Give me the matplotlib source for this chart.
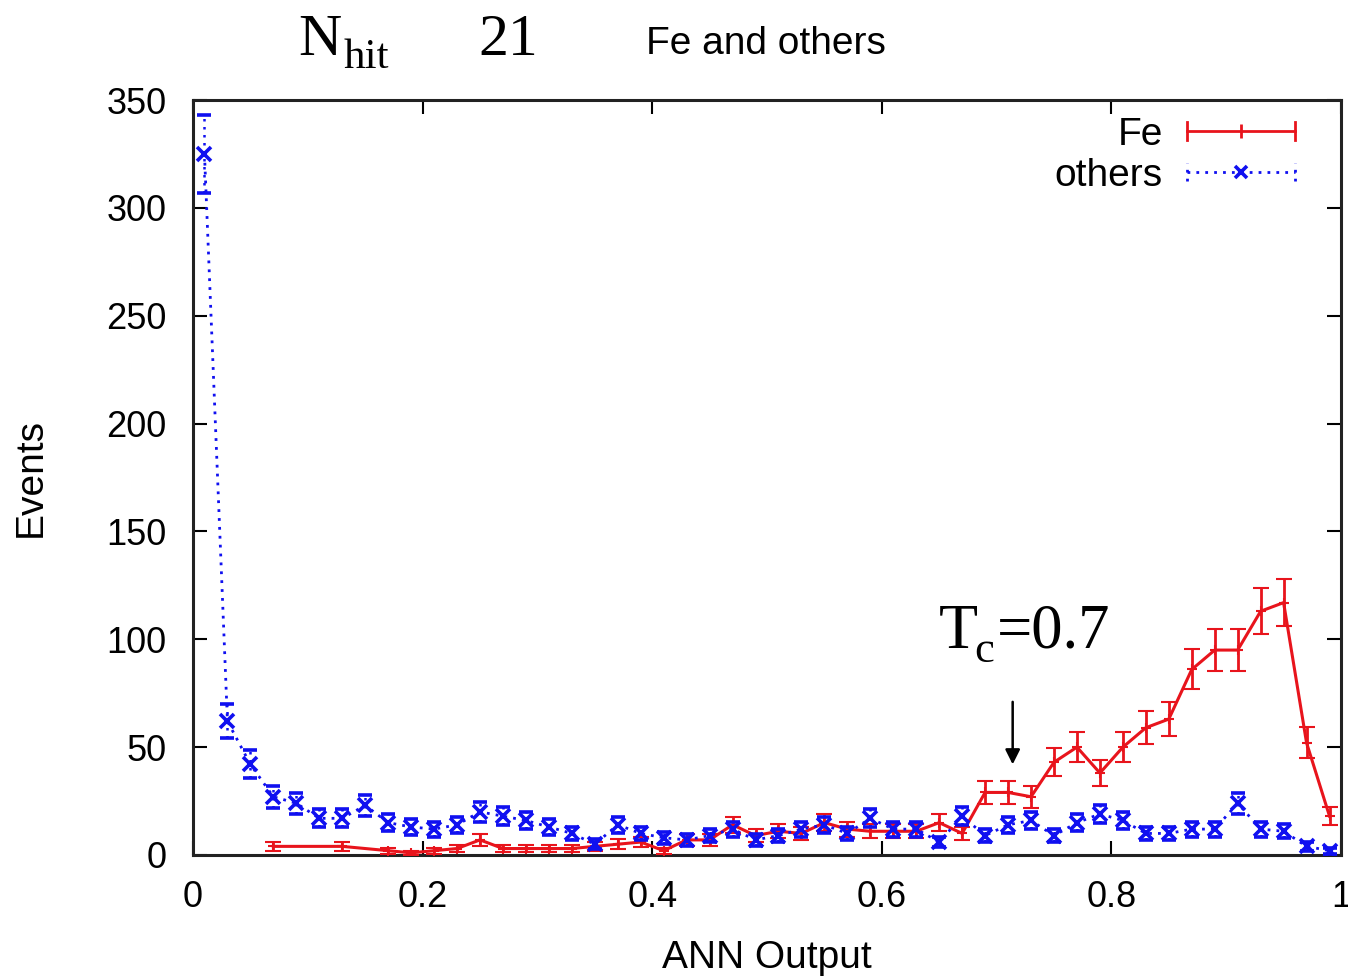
import numpy as np
import matplotlib
matplotlib.use("Agg")
import matplotlib.pyplot as plt
from matplotlib.legend_handler import HandlerBase
from matplotlib.lines import Line2D

# ANN output bin centres (bin width 0.02)
others_x = [0.01, 0.03, 0.05, 0.07, 0.09, 0.11, 0.13, 0.15, 0.17, 0.19,
            0.21, 0.23, 0.25, 0.27, 0.29, 0.31, 0.33, 0.35, 0.37, 0.39,
            0.41, 0.43, 0.45, 0.47, 0.49, 0.51, 0.53, 0.55, 0.57, 0.59,
            0.61, 0.63, 0.65, 0.67, 0.69, 0.71, 0.73, 0.75, 0.77, 0.79,
            0.81, 0.83, 0.85, 0.87, 0.89, 0.91, 0.93, 0.95, 0.97, 0.99]
others_counts = [325, 62, 42, 27, 24, 17, 17, 23, 15, 13,
                 12, 14, 20, 18, 16, 13, 10, 5, 14, 10,
                 8, 7, 9, 12, 7, 9, 12, 14, 10, 17,
                 12, 12, 6, 18, 9, 14, 16, 9, 15, 19,
                 16, 10, 10, 12, 12, 24, 12, 11, 4, 2]

fe_x = [0.07, 0.13, 0.17, 0.19, 0.21, 0.23, 0.25, 0.27, 0.29, 0.31,
        0.33, 0.35, 0.37, 0.39, 0.41, 0.43, 0.45, 0.47, 0.49, 0.51,
        0.53, 0.55, 0.57, 0.59, 0.61, 0.63, 0.65, 0.67, 0.69, 0.71,
        0.73, 0.75, 0.77, 0.79, 0.81, 0.83, 0.85, 0.87, 0.89, 0.91,
        0.93, 0.95, 0.97, 0.99]
fe_counts = [4, 4, 2, 1, 2, 3, 7, 3, 3, 3,
             3, 4, 5, 6, 2, 7, 7, 14, 9, 11,
             10, 15, 12, 11, 11, 11, 15, 10, 29, 29,
             27, 43, 50, 38, 50, 59, 63, 86, 95, 95,
             113, 117, 52, 18]

x_ticks = [0, 0.2, 0.4, 0.6, 0.8, 1]
x_tick_labels = ["0", "0.2", "0.4", "0.6", "0.8", "1"]
y_ticks = [0, 50, 100, 150, 200, 250, 300, 350]
cut_value = 0.7

SANS = ["Liberation Sans", "DejaVu Sans"]
SERIF = ["Liberation Serif", "DejaVu Serif"]
plt.rcParams["font.family"] = SANS

W, H = 1348, 977
fig = plt.figure(figsize=(W / 100, H / 100), dpi=100)
ax = fig.add_axes([193 / W, 1 - 855 / H, (1341 - 193) / W, (855 - 100) / H])

RED = "#e8141c"
BLUE = "#1010f0"
DOTS = (0, (1, 2.2))

fe_err = np.sqrt(np.array(fe_counts, dtype=float))
ot_err = np.sqrt(np.array(others_counts, dtype=float))

fe = ax.errorbar(fe_x, fe_counts, yerr=fe_err, color=RED, lw=2.2,
                 marker="+", ms=7, mew=1.5, capsize=6, capthick=2.0,
                 elinewidth=2.0, label="Fe", zorder=3)
ot = ax.errorbar(others_x, others_counts, yerr=ot_err, color=BLUE, lw=2.0,
                 ls=DOTS, marker="x", ms=10, mew=2.6, capsize=5,
                 capthick=1.3, elinewidth=1.8, label="others", zorder=4)
for coll in ot[2]:
    coll.set_linestyle(DOTS)


class GnuplotKey(HandlerBase):
    """Key sample: horizontal line with end ticks and a centre marker."""

    def __init__(self, color, ls, lw, end_ls, centre_marker, centre_ms, centre_mew):
        super().__init__()
        self.color, self.ls, self.lw = color, ls, lw
        self.end_ls = end_ls
        self.centre_marker = centre_marker
        self.centre_ms, self.centre_mew = centre_ms, centre_mew

    def create_artists(self, legend, orig_handle, xdescent, ydescent,
                       width, height, fontsize, trans):
        y = height / 2 - ydescent
        x0, x1 = -xdescent, width - xdescent
        h = 0.22 * fontsize
        arts = [Line2D([x0, x1], [y, y], color=self.color, ls=self.ls,
                       lw=self.lw, transform=trans)]
        for xe in (x0, x1):
            arts.append(Line2D([xe, xe], [y - h, y + h], color=self.color,
                               ls=self.end_ls, lw=self.lw, transform=trans))
        arts.append(Line2D([(x0 + x1) / 2], [y], color=self.color, ls="none",
                           marker=self.centre_marker, ms=self.centre_ms,
                           mew=self.centre_mew, transform=trans))
        return arts


handler_map = {
    fe: GnuplotKey(RED, "-", 2.0, "-", "|", 10, 2.0),
    ot: GnuplotKey(BLUE, DOTS, 2.0, DOTS, "x", 9, 2.6),
}
ax.legend(handles=[fe, ot], labels=["Fe", "others"], handler_map=handler_map,
          loc="upper right", bbox_to_anchor=((1295 - 193) / 1148, 0.978),
          markerfirst=False, frameon=False, fontsize=28, handlelength=2.78,
          handletextpad=0.62, labelspacing=0.13, borderaxespad=0,
          borderpad=0)

ax.set_xlim(0, 1)
ax.set_ylim(0, 350)
ax.set_xticks(x_ticks)
ax.set_xticklabels(x_tick_labels)
ax.set_yticks(y_ticks)
ax.tick_params(direction="in", length=10, width=1.5, top=True, right=True,
               labelsize=26)
ax.tick_params(axis="y", pad=19)
ax.tick_params(axis="x", pad=18)
for s in ax.spines.values():
    s.set_linewidth(2.2)
    s.set_color("#222222")

ax.set_xlabel("ANN Output", fontsize=28)
ax.set_ylabel("Events", fontsize=28)
ax.xaxis.set_label_coords(0.5, -0.113)
ax.yaxis.set_label_coords(-0.126, 0.5)

# cut marker
ax.annotate("", xy=(0.714, 42), xytext=(0.714, 71),
            arrowprops=dict(arrowstyle="-|>", color="black", lw=1.8,
                            mutation_scale=22, shrinkA=0, shrinkB=0))

# T_c label
fig.text(939 / W, 1 - 648 / H, "T", fontsize=46, family=SERIF, va="baseline")
fig.text(974 / W, 1 - 662 / H, "c", fontsize=32, family=SERIF, va="baseline")
fig.text(997 / W, 1 - 648 / H, f"={cut_value}", fontsize=45, family=SERIF,
         va="baseline")

# header
fig.text(298 / W, 1 - 55 / H, "N", fontsize=43, family=SERIF, va="baseline")
fig.text(344 / W, 1 - 68 / H, "hit", fontsize=31, family=SERIF, va="baseline")
fig.text(478 / W, 1 - 55 / H, "21", fontsize=43, family=SERIF, va="baseline")
fig.text(646 / W, 1 - 54 / H, "Fe and others", fontsize=28, family=SANS,
         va="baseline")

fig.savefig("out.png", dpi=100, facecolor="white")
